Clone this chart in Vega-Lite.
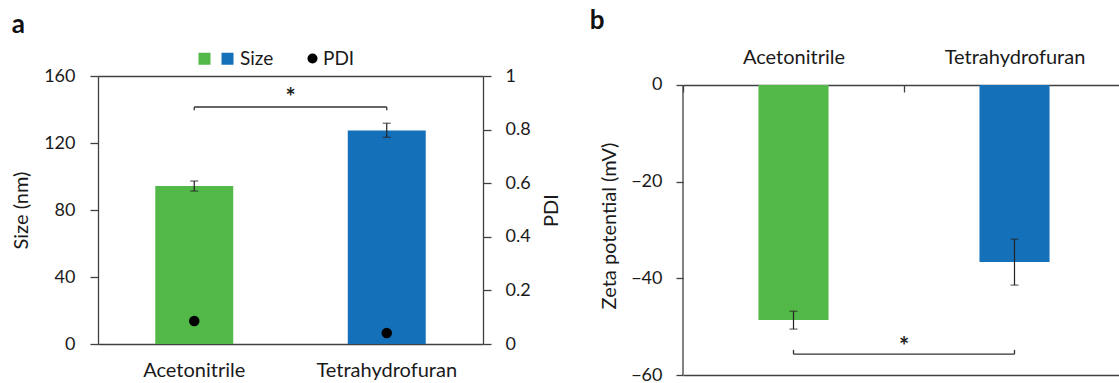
{
  "$schema": "https://vega.github.io/schema/vega-lite/v6.json",
  "background": "white",
  "padding": {"left": 11, "top": 8, "right": 0, "bottom": 0},
  "spacing": 27,
  "config": {
    "view": {"stroke": null},
    "font": "Lato",
    "axis": {
      "labelFont": "Lato", "titleFont": "Lato",
      "labelColor": "#1a1a1a", "titleColor": "#1a1a1a",
      "domainColor": "#404040", "tickColor": "#404040",
      "domainWidth": 1.3, "tickWidth": 1.3,
      "grid": false, "titleFontWeight": "normal"
    },
    "legend": {"labelFont": "Lato", "labelColor": "#1a1a1a"}
  },
  "datasets": {
    "sizeData": [
      {"solvent": "Acetonitrile", "size": 94.3, "sizeLo": 91.3, "sizeHi": 97.3, "pdi": 0.086},
      {"solvent": "Tetrahydrofuran", "size": 127.5, "sizeLo": 123.4, "sizeHi": 131.8, "pdi": 0.041}
    ],
    "bracketA": [{"from": "Acetonitrile", "to": "Tetrahydrofuran", "y": 141.5}],
    "bracketEndsA": [
      {"solvent": "Acetonitrile", "y": 141.5, "y2": 139.6},
      {"solvent": "Tetrahydrofuran", "y": 141.5, "y2": 139.6}
    ],
    "starA": [{"at": "Tetrahydrofuran", "y": 146, "label": "*"}],
    "zetaData": [
      {"solvent": "Acetonitrile", "zeta": -48.6, "zetaLo": -50.5, "zetaHi": -46.8},
      {"solvent": "Tetrahydrofuran", "zeta": -36.6, "zetaLo": -41.4, "zetaHi": -31.9}
    ],
    "frameB": [{"solvent": "Acetonitrile", "lo": -60, "hi": 0}],
    "bracketB": [{"from": "Acetonitrile", "to": "Tetrahydrofuran", "y": -55.7}],
    "bracketEndsB": [
      {"solvent": "Acetonitrile", "y": -55.7, "y2": -54.8},
      {"solvent": "Tetrahydrofuran", "y": -55.7, "y2": -54.8}
    ],
    "starB": [{"at": "Tetrahydrofuran", "y": -54.4, "label": "*"}]
  },
  "hconcat": [
    {
      "width": 385,
      "height": 268,
      "title": {"text": "a", "anchor": "start", "frame": "bounds", "fontSize": 26, "fontWeight": "bold", "font": "Lato", "color": "#111111", "offset": 29.5},
      "layer": [
        {
          "layer": [
            {
              "data": {"name": "sizeData"},
              "mark": {"type": "bar", "width": {"band": 0.405}},
              "encoding": {
                "x": {"field": "solvent", "type": "nominal", "sort": null,
                  "scale": {"domain": ["Acetonitrile", "Tetrahydrofuran"], "paddingInner": 0, "paddingOuter": 0},
                  "axis": {"orient": "bottom", "title": null, "ticks": false, "labelAngle": 0, "labelFontSize": 20, "labelPadding": 16, "labelBaseline": "top"}},
                "y": {"field": "size", "type": "quantitative",
                  "scale": {"domain": [0, 160], "nice": false},
                  "axis": {"title": "Size (nm)", "values": [0, 40, 80, 120, 160], "tickSize": 8, "labelPadding": 15, "labelFontSize": 18, "titleFontSize": 20, "titlePadding": 12}},
                "color": {"field": "solvent", "type": "nominal",
                  "scale": {"domain": ["Acetonitrile", "Tetrahydrofuran"], "range": ["#52B848", "#1570BA"]},
                  "legend": {"title": null, "orient": "none", "legendX": 97, "legendY": -27, "direction": "horizontal", "symbolType": "square", "symbolSize": 144, "symbolStrokeWidth": 0, "labelFontSize": 19, "labelOffset": 3, "columnPadding": 1, "padding": 0, "labelExpr": "datum.label == 'Acetonitrile' ? '' : 'Size'"}}
              }
            },
            {
              "data": {"name": "sizeData"},
              "mark": {"type": "rule", "color": "#222222", "strokeWidth": 1.2},
              "encoding": {
                "x": {"field": "solvent", "type": "nominal"},
                "y": {"field": "sizeLo", "type": "quantitative"},
                "y2": {"field": "sizeHi"}
              }
            },
            {
              "data": {"name": "sizeData"},
              "mark": {"type": "tick", "color": "#222222", "thickness": 1.2, "size": 8, "orient": "horizontal"},
              "encoding": {
                "x": {"field": "solvent", "type": "nominal"},
                "y": {"field": "sizeLo", "type": "quantitative"}
              }
            },
            {
              "data": {"name": "sizeData"},
              "mark": {"type": "tick", "color": "#222222", "thickness": 1.2, "size": 8, "orient": "horizontal"},
              "encoding": {
                "x": {"field": "solvent", "type": "nominal"},
                "y": {"field": "sizeHi", "type": "quantitative"}
              }
            },
            {
              "data": {"name": "bracketA"},
              "mark": {"type": "rule", "color": "#333333", "strokeWidth": 1.3},
              "encoding": {
                "x": {"field": "from", "type": "nominal"},
                "x2": {"field": "to"},
                "y": {"field": "y", "type": "quantitative"}
              }
            },
            {
              "data": {"name": "bracketEndsA"},
              "mark": {"type": "rule", "color": "#333333", "strokeWidth": 1.3},
              "encoding": {
                "x": {"field": "solvent", "type": "nominal"},
                "y": {"field": "y", "type": "quantitative"},
                "y2": {"field": "y2"}
              }
            },
            {
              "data": {"name": "starA"},
              "mark": {"type": "text", "fontSize": 24, "fontWeight": "bold", "font": "Lato", "color": "#222222", "baseline": "middle", "align": "center"},
              "encoding": {
                "x": {"field": "at", "type": "nominal", "bandPosition": 0},
                "y": {"field": "y", "type": "quantitative"},
                "text": {"field": "label"}
              }
            }
          ]
        },
        {
          "data": {"name": "sizeData"},
          "mark": {"type": "point", "filled": true, "size": 110, "color": "#000000", "opacity": 1},
          "encoding": {
            "x": {"field": "solvent", "type": "nominal",
              "scale": {"domain": ["Acetonitrile", "Tetrahydrofuran"], "paddingInner": 0, "paddingOuter": 0},
              "axis": {"orient": "top", "labels": false, "ticks": false, "title": null, "domain": true}},
            "y": {"field": "pdi", "type": "quantitative",
              "scale": {"domain": [0, 1], "nice": false},
              "axis": {"orient": "right", "title": "PDI", "values": [0, 0.2, 0.4, 0.6, 0.8, 1], "format": ".1~f", "tickSize": 8, "labelPadding": 14, "labelFontSize": 18, "titleFontSize": 20, "titlePadding": 11, "titleAngle": 270, "titleBaseline": "top"}},
            "shape": {"datum": "PDI",
              "scale": {"domain": ["PDI"], "range": ["circle"]},
              "legend": {"title": null, "orient": "none", "legendX": 205, "legendY": -27, "symbolType": "circle", "symbolSize": 100, "symbolFillColor": "#000000", "symbolStrokeWidth": 0, "labelFontSize": 19, "labelOffset": 1, "padding": 0}}
          }
        }
      ],
      "resolve": {"scale": {"y": "independent"}, "axis": {"x": "independent"}}
    },
    {
      "width": 442,
      "height": 299,
      "title": {"text": "b", "anchor": "start", "frame": "bounds", "fontSize": 26, "fontWeight": "bold", "font": "Lato", "color": "#111111", "offset": 13, "dx": -10},
      "layer": [
        {
          "data": {"name": "zetaData"},
          "mark": {"type": "bar", "width": {"band": 0.317}},
          "encoding": {
            "x": {"field": "solvent", "type": "nominal", "sort": null,
              "scale": {"domain": ["Acetonitrile", "Tetrahydrofuran"], "paddingInner": 0, "paddingOuter": 0},
              "axis": {"orient": "top", "offset": -9, "title": null, "labelAngle": 0, "labelFontSize": 20, "tickBand": "extent", "tickSize": -7, "labelPadding": 25, "domain": true}},
            "y": {"field": "zeta", "type": "quantitative",
              "scale": {"domain": [-60, 1.862], "nice": false, "zero": false},
              "axis": {"title": "Zeta potential (mV)", "values": [0, -20, -40, -60], "domain": false, "tickSize": 7, "labelPadding": 14, "labelFontSize": 18, "titleFontSize": 20, "titlePadding": 11}},
            "color": {"field": "solvent", "type": "nominal",
              "scale": {"domain": ["Acetonitrile", "Tetrahydrofuran"], "range": ["#52B848", "#1570BA"]},
              "legend": null}
          }
        },
        {
          "data": {"name": "frameB"},
          "mark": {"type": "rule", "color": "#404040", "strokeWidth": 1.3},
          "encoding": {
            "x": {"field": "solvent", "type": "nominal", "bandPosition": 0, "axis": null},
            "y": {"field": "lo", "type": "quantitative"},
            "y2": {"field": "hi"}
          }
        },
        {
          "data": {"name": "zetaData"},
          "mark": {"type": "rule", "color": "#222222", "strokeWidth": 1.2},
          "encoding": {
            "x": {"field": "solvent", "type": "nominal", "axis": null},
            "y": {"field": "zetaLo", "type": "quantitative"},
            "y2": {"field": "zetaHi"}
          }
        },
        {
          "data": {"name": "zetaData"},
          "mark": {"type": "tick", "color": "#222222", "thickness": 1.2, "size": 8, "orient": "horizontal"},
          "encoding": {
            "x": {"field": "solvent", "type": "nominal", "axis": null},
            "y": {"field": "zetaLo", "type": "quantitative"}
          }
        },
        {
          "data": {"name": "zetaData"},
          "mark": {"type": "tick", "color": "#222222", "thickness": 1.2, "size": 8, "orient": "horizontal"},
          "encoding": {
            "x": {"field": "solvent", "type": "nominal", "axis": null},
            "y": {"field": "zetaHi", "type": "quantitative"}
          }
        },
        {
          "data": {"name": "bracketB"},
          "mark": {"type": "rule", "color": "#333333", "strokeWidth": 1.3},
          "encoding": {
            "x": {"field": "from", "type": "nominal",
              "axis": {"orient": "bottom", "labels": false, "ticks": false, "title": null, "domain": true}},
            "x2": {"field": "to"},
            "y": {"field": "y", "type": "quantitative"}
          }
        },
        {
          "data": {"name": "bracketEndsB"},
          "mark": {"type": "rule", "color": "#333333", "strokeWidth": 1.3},
          "encoding": {
            "x": {"field": "solvent", "type": "nominal", "axis": null},
            "y": {"field": "y", "type": "quantitative"},
            "y2": {"field": "y2"}
          }
        },
        {
          "data": {"name": "starB"},
          "mark": {"type": "text", "fontSize": 24, "fontWeight": "bold", "font": "Lato", "color": "#222222", "baseline": "middle", "align": "center"},
          "encoding": {
            "x": {"field": "at", "type": "nominal", "bandPosition": 0, "axis": null},
            "y": {"field": "y", "type": "quantitative"},
            "text": {"field": "label"}
          }
        }
      ],
      "resolve": {"axis": {"x": "independent"}}
    }
  ]
}
